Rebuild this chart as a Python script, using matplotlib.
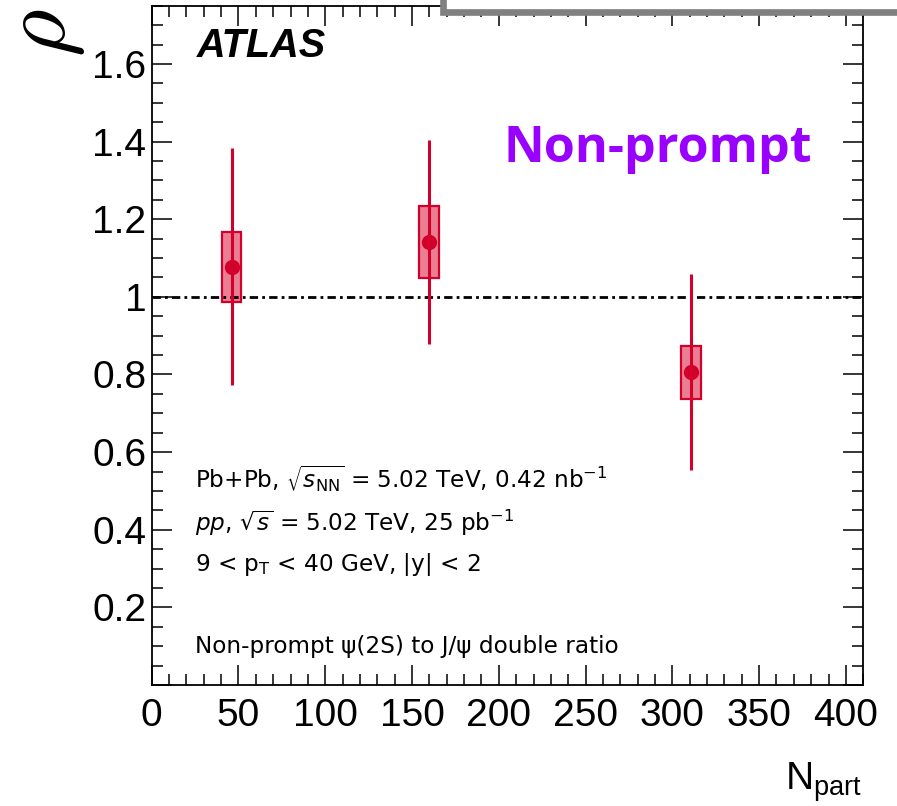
import matplotlib
matplotlib.use('Agg')
import numpy as np
import matplotlib.pyplot as plt
from matplotlib.ticker import MultipleLocator, FuncFormatter
from matplotlib.patches import Rectangle

# ATLAS non-prompt psi(2S)/J/psi double ratio vs Npart
npart = [46, 160, 311]
ratio = [1.078, 1.141, 0.806]
stat_err = [0.305, 0.262, 0.252]
syst_err = [0.090, 0.093, 0.068]

x_ticks = [0, 50, 100, 150, 200, 250, 300, 350, 400]
y_ticks = [0, 0.2, 0.4, 0.6, 0.8, 1.0, 1.2, 1.4, 1.6]

red = '#d4002c'
pink = (0.84, 0.0, 0.17, 0.5)

plt.rcParams['font.family'] = 'Liberation Sans'
plt.rcParams['mathtext.fontset'] = 'custom'
plt.rcParams['mathtext.rm'] = 'Liberation Sans'
plt.rcParams['mathtext.it'] = 'Liberation Sans:italic'

fig = plt.figure(figsize=(8.97, 8.06), dpi=100)
ax = fig.add_axes([0.1691, 0.1501, 0.7933, 0.8428])

ax.set_xlim(0, 410)
ax.set_ylim(0, 1.75)

# reference line at 1
ax.axhline(1.0, color='black', lw=2.0, dashes=(3.0, 1.5, 1.0, 1.5), zorder=3)

# systematic boxes
ax.bar(npart, [2 * s for s in syst_err], bottom=[r - s for r, s in zip(ratio, syst_err)],
       width=11.5, facecolor=pink, edgecolor=red, linewidth=1.6, zorder=2)
ax.errorbar(npart, ratio, yerr=stat_err, fmt='o', color=red, ms=10,
            elinewidth=2.2, capsize=0, zorder=4)

ax.set_xticks(x_ticks)
ax.set_yticks(y_ticks)
ax.xaxis.set_minor_locator(MultipleLocator(10))
ax.yaxis.set_minor_locator(MultipleLocator(0.05))
ax.yaxis.set_major_formatter(FuncFormatter(lambda v, p: '' if v == 0 else '%g' % v))
ax.tick_params(which='both', direction='in', top=True, right=True, width=1.1, labelsize=28)
ax.tick_params(which='major', length=14.5)
ax.tick_params(which='minor', length=8)
ax.tick_params(axis='x', pad=9)
ax.tick_params(axis='y', pad=4)
for sp in ax.spines.values():
    sp.set_linewidth(1.3)

# texts
fig.text(197 / 897, 1 - 57 / 806, 'ATLAS', fontsize=28.5, fontweight='bold', style='italic',
         ha='left', va='baseline')
fig.text(503 / 897, 1 - 162 / 806, 'Non-prompt', fontsize=36.2, fontweight='bold',
         family='Open Sans', color='#9900ff', ha='left', va='baseline')

info = [r'Pb+Pb, $\sqrt{s_{\rm NN}}$ = 5.02 TeV, 0.42 nb$^{-1}$',
        r'$pp$, $\sqrt{s}$ = 5.02 TeV, 25 pb$^{-1}$',
        r'9 < p$_{\rm T}$ < 40 GeV, |y| < 2',
        r'Non-prompt ψ(2S) to J/ψ double ratio']
baselines = [488, 531, 571, 653]
for t, b in zip(info, baselines):
    fig.text(195 / 897, 1 - b / 806, t, fontsize=16.7, family='DejaVu Sans',
             math_fontfamily='dejavusans', ha='left', va='baseline')

fig.text(862 / 897, 1 - 790 / 806, r'N$_{\rm part}$', fontsize=28, ha='right', va='baseline')
fig.text(1 / 897, 1 - 9 / 806, r'$\rho$', fontsize=66, math_fontfamily='cm',
         rotation=90, ha='left', va='top')

# grey frame corner at the top right
fig.add_artist(Rectangle((442.5 / 897, 1 - 11.5 / 806), 0.7, 0.1, transform=fig.transFigure,
                         facecolor='white', edgecolor='#808080', lw=4.8, zorder=10, clip_on=False))

fig.savefig('out.png', dpi=100)
